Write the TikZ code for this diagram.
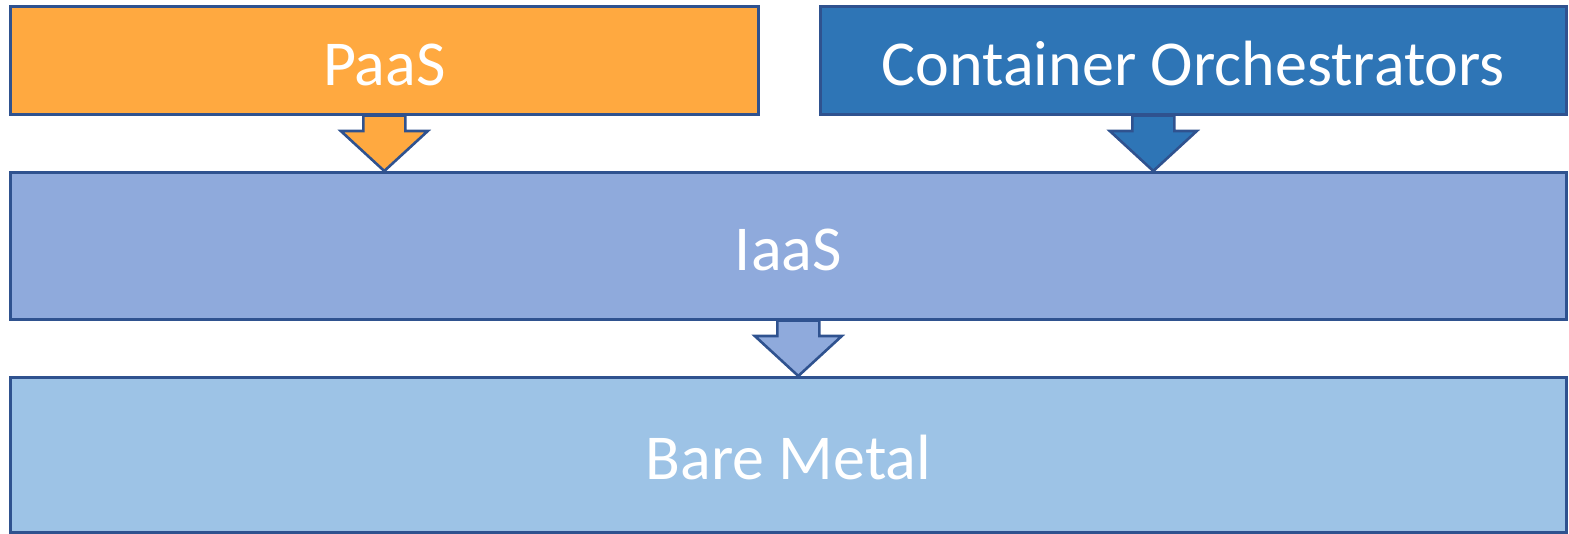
\documentclass[tikz,border=0pt]{standalone}
\usepackage{fontspec}
\setmainfont{Carlito}
\usepackage{xcolor}
\usepackage{tikz}
\usetikzlibrary{positioning, calc}

\definecolor{paasorange}{HTML}{FFA940}
\definecolor{orchblue}{HTML}{2E75B6}
\definecolor{iaasblue}{HTML}{8FAADC}
\definecolor{metalblue}{HTML}{9DC3E6}
\definecolor{edgeblue}{HTML}{2F528F}

% fat down arrow: #1 fill, #2 where the shaft starts, #3 where the tip lands
\newcommand{\fatarrow}[3]{%
  \draw[arrowshape, fill=#1] let \p1=(#2), \p2=(#3) in
    (\x1-21pt,\y1) -- (\x1+21pt,\y1) -- (\x1+21pt,\y2+40pt) -- (\x1+43.5pt,\y2+40pt)
    -- (\x2,\y2) -- (\x1-43.5pt,\y2+40pt) -- (\x1-21pt,\y2+40pt) -- cycle;}

\begin{document}
\begin{tikzpicture}[
    x=1pt, y=-1pt,
    layer/.style={draw=edgeblue, line width=2.6pt, rectangle, anchor=north west, text=white,
                  font=\fontsize{64}{77}\selectfont, text height=50pt, text depth=0pt, inner sep=0pt},
    arrowshape/.style={draw=edgeblue, line width=2.6pt, line join=miter}
]
\useasboundingbox (0,0) rectangle (1569,533);

\node[layer, fill=paasorange, minimum width=748pt, minimum height=108pt] (paas) at (9,5) {PaaS};
\node[layer, fill=orchblue, minimum width=746pt, minimum height=108pt] (orch) at (819,5) {Container Orchestrators};
\node[layer, fill=iaasblue, minimum width=1556pt, minimum height=147pt] (iaas) at (9,171) {IaaS};
\node[layer, fill=metalblue, minimum width=1556pt, minimum height=155pt] (metal) at (9,376) {Bare Metal};

% arrows between the layers
\fatarrow{paasorange}{paas.south}{paas.south |- iaas.north}
\fatarrow{orchblue}{[xshift=-40pt]orch.south}{[xshift=-40pt]orch.south |- iaas.north}
\fatarrow{iaasblue}{[xshift=10pt]iaas.south}{[xshift=10pt]iaas.south |- metal.north}
\end{tikzpicture}
\end{document}
